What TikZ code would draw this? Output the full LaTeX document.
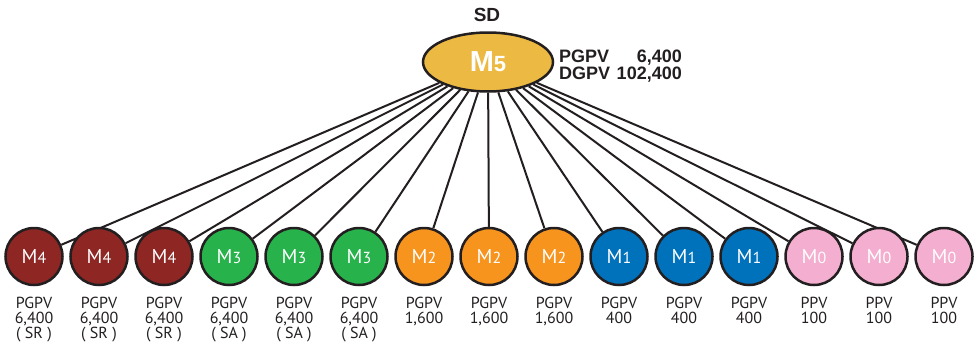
\documentclass[tikz,border=0pt]{standalone}
\usepackage{fontspec}
\setmainfont{PT Sans}
\newfontfamily\hfont{Liberation Sans}
\usetikzlibrary{shapes.geometric,backgrounds}
\definecolor{cred}{RGB}{142,38,36}
\definecolor{cgreen}{RGB}{40,178,76}
\definecolor{corange}{RGB}{247,148,30}
\definecolor{cblue}{RGB}{0,114,188}
\definecolor{cpink}{RGB}{244,174,207}
\definecolor{cgold}{RGB}{236,185,66}
\definecolor{cink}{RGB}{35,31,32}
\tikzset{
  mnode/.style={circle, draw=cink, line width=2.5pt, minimum size=57pt, inner sep=0pt, text=white, font=\fontsize{20}{20}\selectfont},
  lab/.style={anchor=north, align=center, text=cink, font=\fontsize{16}{15}\selectfont, inner sep=0pt},
  conn/.style={draw=cink, line width=2pt},
  hd/.style={text=cink, inner sep=0pt, font=\hfont\bfseries\fontsize{18}{18}\selectfont}
}
\begin{document}
\begin{tikzpicture}[x=1pt,y=-1pt]
\useasboundingbox (0,0) rectangle (976,348);
\node[ellipse, draw=cink, line width=2.5pt, fill=cgold, minimum width=130pt, minimum height=59pt, inner sep=0pt, text=white, font=\hfont\bfseries\fontsize{29}{29}\selectfont] (top) at (488,62) {M{\fontsize{22}{22}\selectfont 5}};
\node[hd, font=\hfont\bfseries\fontsize{19}{19}\selectfont] (sd) at (487,15) {SD};
\node[hd, anchor=base west] (p1) at (559,62) {PGPV};
\node[hd, anchor=base east] (p2) at (682,62) {6,400};
\node[hd, anchor=base west] (d1) at (559,79) {DGPV};
\node[hd, anchor=base east] (d2) at (682,79) {102,400};
\foreach \i/\c/\n/\t in {0/cred/4/{PGPV\\6,400\\( SR )},1/cred/4/{PGPV\\6,400\\( SR )},2/cred/4/{PGPV\\6,400\\( SR )},
  3/cgreen/3/{PGPV\\6,400\\( SA )},4/cgreen/3/{PGPV\\6,400\\( SA )},5/cgreen/3/{PGPV\\6,400\\( SA )},
  6/corange/2/{PGPV\\1,600},7/corange/2/{PGPV\\1,600},8/corange/2/{PGPV\\1,600},
  9/cblue/1/{PGPV\\400},10/cblue/1/{PGPV\\400},11/cblue/1/{PGPV\\400},
  12/cpink/0/{PPV\\100},13/cpink/0/{PPV\\100},14/cpink/0/{PPV\\100}}{
  \node[mnode, fill=\c] (c\i) at ({34+65*\i},256.5) {M{\fontsize{16}{16}\selectfont\n}};
  \node[lab] (l\i) at ({34+65*\i},296.5) {\t};
}
\begin{scope}[on background layer]
\foreach \i in {0,...,14}{
  \draw[conn] (top) -- (c\i);
}
\end{scope}
\end{tikzpicture}
\end{document}
